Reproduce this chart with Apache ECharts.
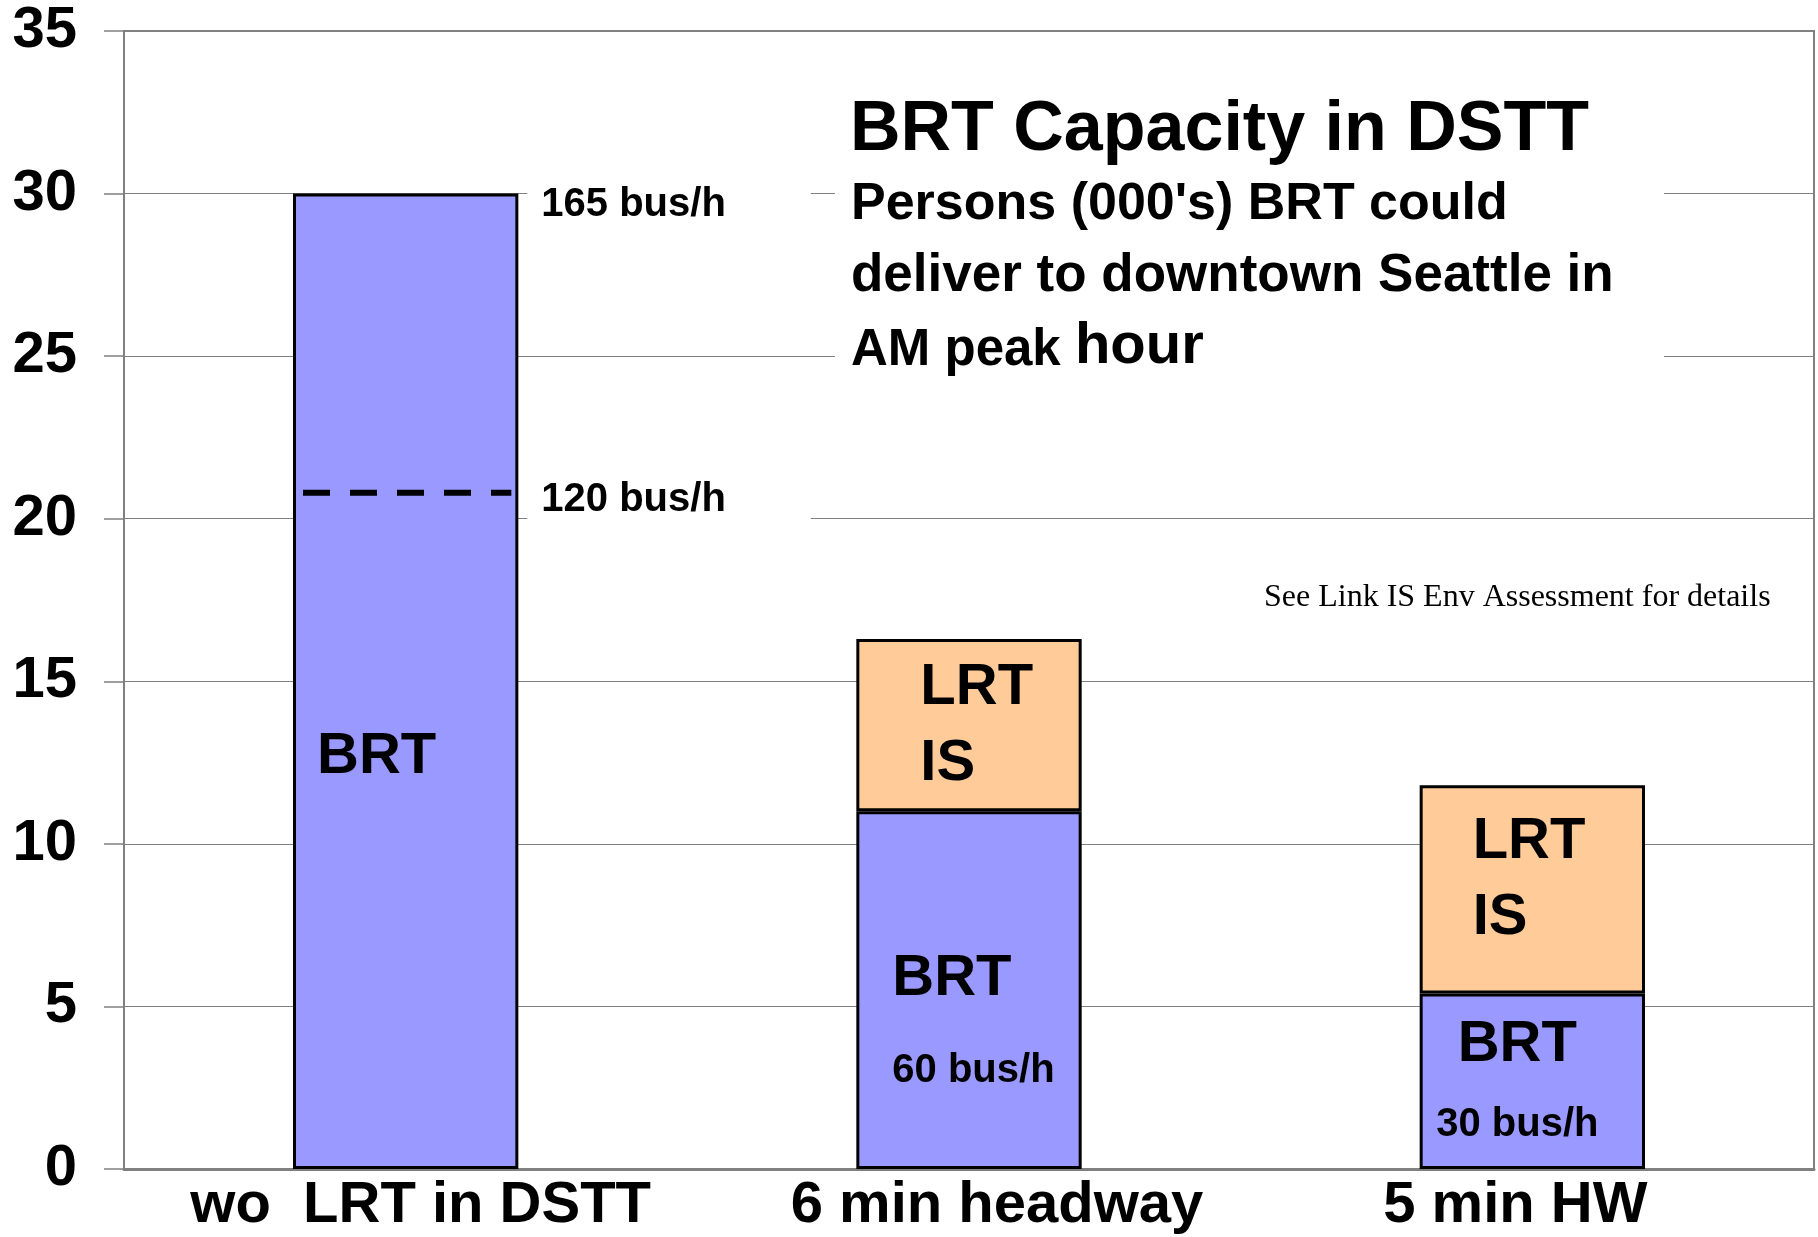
<!DOCTYPE html>
<html>
<head>
<meta charset="utf-8">
<script src="https://cdn.jsdelivr.net/npm/echarts@6/dist/echarts.min.js"></script>
<style>
  html, body { margin: 0; padding: 0; background: #fff; }
  #chart { width: 1818px; height: 1237px; }
</style>
</head>
<body>
<div id="chart"></div>
<script>
// data
const categories = ["wo  LRT in DSTT", "6 min headway", "5 min HW"];
const brtValues = [30, 11, 5.4];
const lrtValues = ["-", 5.3, 6.4];
const busRates = ["", "60 bus/h", "30 bus/h"];
const rateValues = [30, 20.8]; // bus rate marks on the first bar
const rateLabels = ["165 bus/h", "120 bus/h"];
const rateDashed = [false, true];

const FONT = '"Liberation Sans", Arial, sans-serif';

// label placement per bar (layout only)
const brtLabelLayout = [
  { position: "insideLeft", distance: 24, offset: [0, 76], lh1: 70, lh2: 50 },
  { position: "insideLeft", distance: 36, offset: [0, 31], lh1: 100, lh2: 84 },
  { position: "inside", offset: [-15, 0], lh1: 88, lh2: 72 },
];
const lrtLabelLayout = [
  null,
  { position: "insideLeft", distance: 64, offset: [0, 1] },
  { position: "insideLeft", distance: 53, offset: [0, -9] },
];
const rateTextShift = [11, 7];
// small horizontal shifts of category labels (left pad, right pad)
const catPad = [[30, 0], [56, 0], [0, 34]];

const chart = echarts.init(document.getElementById("chart"));

// dashed line + "xx bus/h" text next to the first bar
function renderRate(params, api) {
  const pt = api.coord([api.value(0), api.value(1)]);
  const band = api.size([1, 0])[0];
  const half = (band * 0.4) / 2;
  const children = [];
  if (rateDashed[params.dataIndex]) {
    children.push({
      type: "line",
      shape: { x1: pt[0] - half + 10, y1: pt[1], x2: pt[0] + half - 7, y2: pt[1] },
      style: { stroke: "#000", lineWidth: 6, lineDash: [27, 20] },
    });
  }
  children.push({
    type: "text",
    x: pt[0] + half + 9,
    y: pt[1] + rateTextShift[params.dataIndex],
    style: {
      text: rateLabels[params.dataIndex],
      font: "bold 40px " + FONT,
      fill: "#000",
      verticalAlign: "middle",
      align: "left",
      backgroundColor: "#fff",
      padding: [8, 85, 8, 14],
    },
  });
  return { type: "group", children: children };
}

const catRich = {};
catPad.forEach(function (p, i) {
  catRich["c" + i] = {
    fontFamily: FONT,
    fontWeight: "bold",
    fontSize: 58,
    color: "#000",
    padding: [0, p[1], 0, p[0]],
  };
});

const option = {
  backgroundColor: "#fff",
  animation: false,
  grid: {
    left: 124,
    right: 4,
    top: 31,
    bottom: 68,
    show: true,
    borderColor: "#808080",
    borderWidth: 2,
    outerBoundsMode: "none",
  },
  xAxis: {
    type: "category",
    data: categories,
    axisLine: { show: true, lineStyle: { color: "#808080", width: 3 } },
    axisTick: { show: false },
    axisLabel: {
      color: "#000",
      fontFamily: FONT,
      fontWeight: "bold",
      fontSize: 58,
      margin: 8,
      interval: 0,
      formatter: function (value, index) {
        return "{c" + index + "|" + value + "}";
      },
      rich: catRich,
    },
  },
  yAxis: {
    type: "value",
    min: 0,
    max: 35,
    interval: 5,
    axisLine: { show: true, lineStyle: { color: "#808080", width: 2 } },
    axisTick: { show: true, length: 20, lineStyle: { color: "#808080", width: 1.5 } },
    axisLabel: {
      color: "#000",
      fontFamily: FONT,
      fontWeight: "bold",
      fontSize: 58,
      margin: 47,
    },
    splitLine: { show: true, lineStyle: { color: "#808080", width: 1.2 } },
  },
  series: [
    {
      name: "BRT",
      type: "bar",
      stack: "cap",
      barWidth: "40%",
      itemStyle: { color: "#9999FF", borderColor: "#000", borderWidth: 3 },
      data: brtValues.map(function (v, i) {
        const lay = brtLabelLayout[i];
        return {
          value: v,
          label: {
            show: true,
            position: lay.position,
            distance: lay.distance || 0,
            offset: lay.offset,
            formatter: busRates[i] ? "{big|BRT}\n{small|" + busRates[i] + "}" : "{big|BRT}",
            rich: {
              big: { fontFamily: FONT, fontWeight: "bold", fontSize: 58, color: "#000", lineHeight: lay.lh1 },
              small: { fontFamily: FONT, fontWeight: "bold", fontSize: 40, color: "#000", lineHeight: lay.lh2 },
            },
          },
        };
      }),
    },
    {
      name: "LRT IS",
      type: "bar",
      stack: "cap",
      barWidth: "40%",
      itemStyle: { color: "#FFCC99", borderColor: "#000", borderWidth: 3 },
      data: lrtValues.map(function (v, i) {
        const lay = lrtLabelLayout[i];
        if (!lay) return { value: v };
        return {
          value: v,
          label: {
            show: true,
            position: lay.position,
            distance: lay.distance,
            offset: lay.offset,
            formatter: "{big|LRT}\n{big|IS}",
            rich: {
              big: { fontFamily: FONT, fontWeight: "bold", fontSize: 58, color: "#000", lineHeight: 76 },
            },
          },
        };
      }),
    },
    {
      name: "rates",
      type: "custom",
      z: 5,
      renderItem: renderRate,
      data: rateValues.map(function (v) { return [0, v]; }),
    },
  ],
  graphic: [
    {
      type: "rect",
      shape: { x: 835, y: 60, width: 829, height: 330 },
      style: { fill: "#fff" },
      z: 10,
    },
    {
      type: "text",
      x: 850,
      y: 96,
      z: 11,
      style: { text: "BRT Capacity in DSTT", font: "bold 70px " + FONT, fill: "#000" },
    },
    {
      type: "text",
      x: 851,
      y: 179,
      z: 11,
      style: { text: "Persons (000's) BRT could", font: "bold 52px " + FONT, fill: "#000" },
    },
    {
      type: "text",
      x: 851,
      y: 250,
      z: 11,
      style: { text: "deliver to downtown Seattle in", font: "bold 53px " + FONT, fill: "#000" },
    },
    {
      type: "text",
      x: 851,
      y: 318,
      z: 11,
      style: {
        text: "{a|AM peak }{b|hour}",
        rich: {
          a: { fontFamily: FONT, fontWeight: "bold", fontSize: 51, fill: "#000", verticalAlign: "bottom" },
          b: { fontFamily: FONT, fontWeight: "bold", fontSize: 58, fill: "#000", verticalAlign: "bottom" },
        },
      },
    },
    {
      type: "text",
      x: 1264,
      y: 582,
      z: 11,
      style: {
        text: "See Link IS Env Assessment for details",
        font: '32px "Liberation Serif", "Times New Roman", serif',
        fill: "#000",
      },
    },
  ],
};

chart.setOption(option);
window.addEventListener("resize", function () {
  chart.resize();
});
</script>
</body>
</html>
